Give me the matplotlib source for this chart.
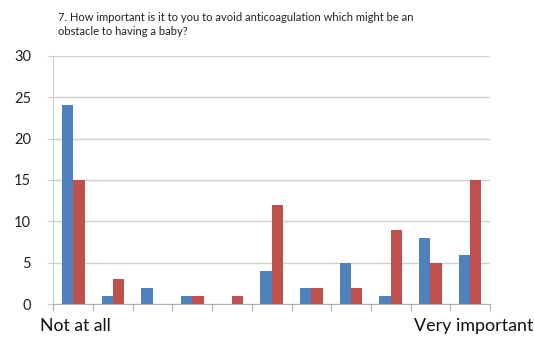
import matplotlib
matplotlib.use("Agg")
import matplotlib.pyplot as plt
import numpy as np

plt.rcParams['font.family'] = ['Lato', 'DejaVu Sans']

categories = list(range(11))
series_a = [24, 1, 2, 1, 0, 4, 2, 5, 1, 8, 6]
series_b = [15, 3, 0, 1, 1, 12, 2, 2, 9, 5, 15]
y_ticks = [0, 5, 10, 15, 20, 25, 30]
title = "7. How important is it to you to avoid anticoagulation which might be an\nobstacle to having a baby?"
left_label = "Not at all"
right_label = "Very important"

blue = "#4F81BD"
red = "#C0504D"
grid_c = "#D0D0D0"
axis_c = "#B0B0B0"

fig = plt.figure(figsize=(5.34, 3.41), dpi=100)
ax = fig.add_axes([0.1, 0.1076, 0.8176, 0.7291])

x = np.arange(len(categories))
w = 1 / 3.5
ax.bar(x - w / 2, series_a, width=w, color=blue, zorder=3)
ax.bar(x + w / 2, series_b, width=w, color=red, zorder=3)

ax.set_xlim(-0.5, len(categories) - 0.5)
ax.set_ylim(0, 30)
ax.set_yticks(y_ticks)
ax.set_yticklabels([str(t) for t in y_ticks], fontsize=10.5, color="#222222")
ax.yaxis.grid(True, color=grid_c, linewidth=1.0, zorder=0)
ax.tick_params(axis='y', length=4, color=grid_c, pad=12)

ax.set_xticks(np.arange(-0.5, len(categories)), minor=False)
ax.set_xticklabels([])
ax.tick_params(axis='x', length=5, color=axis_c, direction='out')

for side in ['top', 'right']:
    ax.spines[side].set_visible(False)
ax.spines['left'].set_color(grid_c)
ax.spines['bottom'].set_color(axis_c)

fig.text(58 / 534, 1 - 12 / 341, title, fontsize=8.0, va='top', ha='left',
         color="#222222", linespacing=1.3)
fig.text(40 / 534, 1 - 326 / 341, left_label, fontsize=12.7, va='center',
         ha='left', color="#111111")
fig.text(533 / 534, 1 - 326 / 341, right_label, fontsize=12.9, va='center',
         ha='right', color="#111111")

fig.savefig("out.png", dpi=100)
